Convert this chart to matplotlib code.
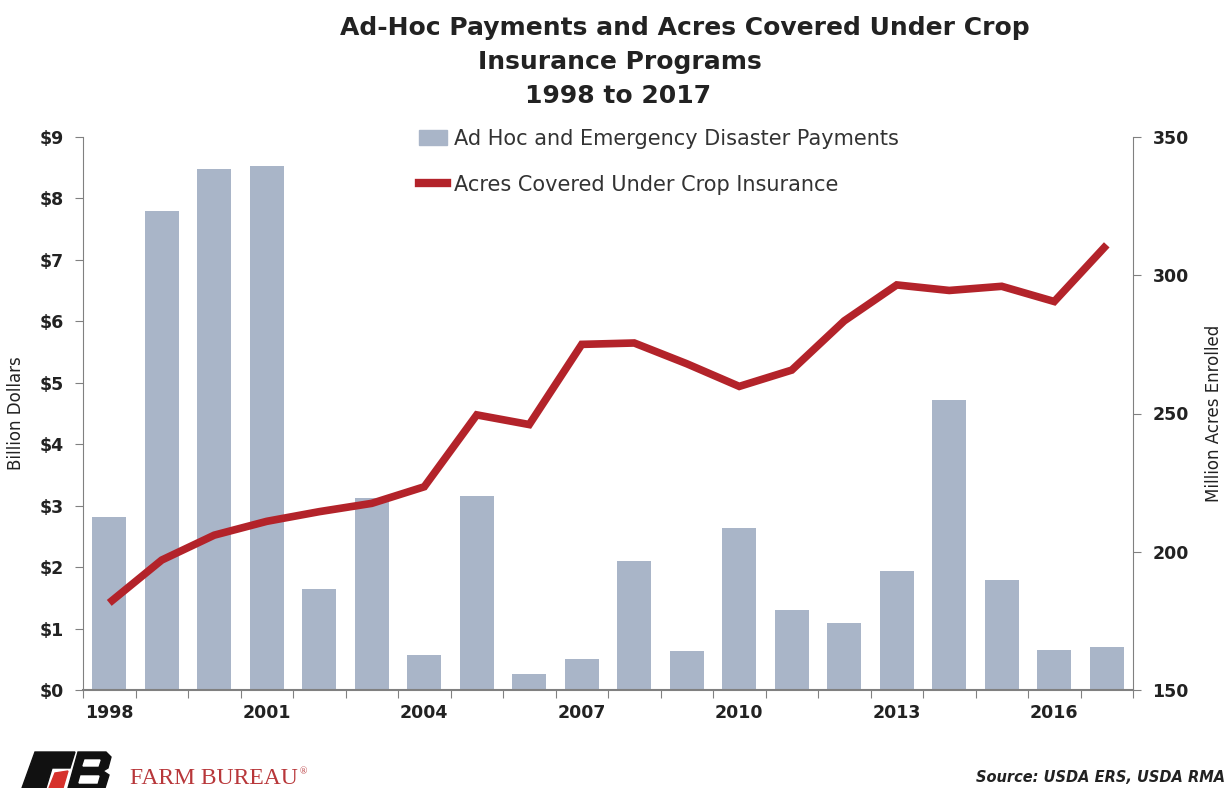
import numpy as np
import matplotlib.pyplot as plt
from matplotlib.patches import Polygon
from matplotlib.lines import Line2D
from matplotlib.patches import Patch

# Данные: выплаты (млрд $) и застрахованные площади (млн акров)
YEARS = list(range(1998, 2018))
PAYMENTS = [2.81, 7.80, 8.48, 8.52, 1.64, 3.13, 0.57, 3.16, 0.26, 0.50,
            2.10, 0.64, 2.64, 1.30, 1.09, 1.94, 4.72, 1.79, 0.65, 0.70]
ACRES = [181.5, 197, 206, 211, 214.5, 217.5, 223.5, 249.5, 246, 275,
         275.5, 268, 259.8, 265.7, 283.5, 296.5, 294.5, 296, 290.5, 311]
X_LABEL_YEARS = [1998, 2001, 2004, 2007, 2010, 2013, 2016]
LEFT_TICKS = list(range(0, 10))
RIGHT_TICKS = [150, 200, 250, 300, 350]

BAR_COLOR = "#a9b5c8"
LINE_COLOR = "#b3232a"
AXIS_COLOR = "#808080"
TEXT_COLOR = "#222222"
W, H = 1231, 788

plt.rcParams['font.family'] = ['DejaVu Sans']


def fx(px):
    return px / W


def fy(py):
    return 1 - py / H


fig = plt.figure(figsize=(W / 100, H / 100), dpi=100)
ax = fig.add_axes([fx(83), fy(690), fx(1133) - fx(83), fy(137) - fy(690)])

x = np.arange(len(YEARS))
ax.bar(x, PAYMENTS, width=0.64, color=BAR_COLOR, zorder=2)
ax.set_xlim(-0.5, len(YEARS) - 0.5)
ax.set_ylim(0, 9)
ax.set_yticks(LEFT_TICKS)
ax.set_yticklabels([f"${v}" for v in LEFT_TICKS], fontsize=12.5,
                   fontweight="bold", color=TEXT_COLOR)

# деления по границам столбцов, подписи — под отдельными годами
ax.set_xticks(np.arange(-0.5, len(YEARS)))
ax.set_xticklabels([])
ax.set_xticks([YEARS.index(y) for y in X_LABEL_YEARS], minor=True)
ax.set_xticklabels([str(y) for y in X_LABEL_YEARS], minor=True,
                   fontsize=12.5, fontweight="bold", color=TEXT_COLOR)
ax.tick_params(axis="x", which="major", length=6, color=AXIS_COLOR)
ax.tick_params(axis="x", which="minor", length=0, pad=10)
ax.tick_params(axis="y", length=6, color=AXIS_COLOR, pad=8)

for side in ["top", "right"]:
    ax.spines[side].set_visible(False)
for side in ["left", "bottom"]:
    ax.spines[side].set_color(AXIS_COLOR)
ax.spines["bottom"].set_linewidth(1.5)

ax.set_ylabel("Billion Dollars", fontsize=12, color=TEXT_COLOR, labelpad=10)

ax2 = ax.twinx()
ax2.plot(x, ACRES, color=LINE_COLOR, lw=5.5, solid_joinstyle="miter",
         solid_capstyle="butt")
ax2.set_ylim(150, 350)
ax2.set_yticks(RIGHT_TICKS)
ax2.set_yticklabels([str(v) for v in RIGHT_TICKS], fontsize=12.5,
                    fontweight="bold", color=TEXT_COLOR)
ax2.tick_params(axis="y", length=6, color=AXIS_COLOR, pad=8)
for side in ["top", "left", "bottom"]:
    ax2.spines[side].set_visible(False)
ax2.spines["right"].set_color(AXIS_COLOR)
ax2.set_ylabel("Million Acres Enrolled", fontsize=12, color=TEXT_COLOR,
               labelpad=12)

handles = [Patch(color=BAR_COLOR),
           Line2D([], [], color=LINE_COLOR, lw=6)]
fig.legend(handles, ["Ad Hoc and Emergency Disaster Payments",
                     "Acres Covered Under Crop Insurance"],
           loc="upper left", bbox_to_anchor=(fx(400), fy(110)),
           frameon=False, fontsize=15, labelcolor="#333333",
           handlelength=1.35, handletextpad=0.35, labelspacing=1.25)

# заголовок
fig.text(fx(685), fy(28), "Ad-Hoc Payments and Acres Covered Under Crop",
         ha="center", va="center", fontsize=18, fontweight="bold",
         color=TEXT_COLOR)
fig.text(fx(620), fy(62), "Insurance Programs", ha="center", va="center",
         fontsize=18, fontweight="bold", color=TEXT_COLOR)
fig.text(fx(618), fy(96), "1998 to 2017", ha="center", va="center",
         fontsize=18, fontweight="bold", color=TEXT_COLOR)

fig.text(fx(1225), fy(777), "Source: USDA ERS, USDA RMA", ha="right",
         va="center", fontsize=10.5, fontweight="bold", style="italic",
         color=TEXT_COLOR)

# логотип
def poly(points, color):
    fig.patches.append(Polygon([(fx(a), fy(b)) for a, b in points],
                               closed=True, color=color,
                               transform=fig.transFigure, figure=fig))


poly([(35, 752), (75, 752), (70, 768), (52, 768), (46, 788), (22, 788)],
     "#111111")
poly([(55, 773), (68, 771), (63, 788), (49, 788)], "#d6312b")
poly([(78, 752), (106, 752), (111, 757), (108, 768), (103, 771), (109, 775),
      (105, 788), (68, 788)], "#111111")
poly([(85, 760), (100, 760), (98, 766), (83, 766)], "white")
poly([(81, 776), (99, 776), (97, 783), (79, 783)], "white")
fig.text(fx(130), fy(779), "FARM BUREAU", ha="left", va="center",
         fontsize=17, family="Liberation Serif", color="#b8373a")
fig.text(fx(300), fy(772), "®", ha="left", va="center", fontsize=7,
         family="Liberation Serif", color="#b8373a")

fig.savefig("out.png", dpi=100)
